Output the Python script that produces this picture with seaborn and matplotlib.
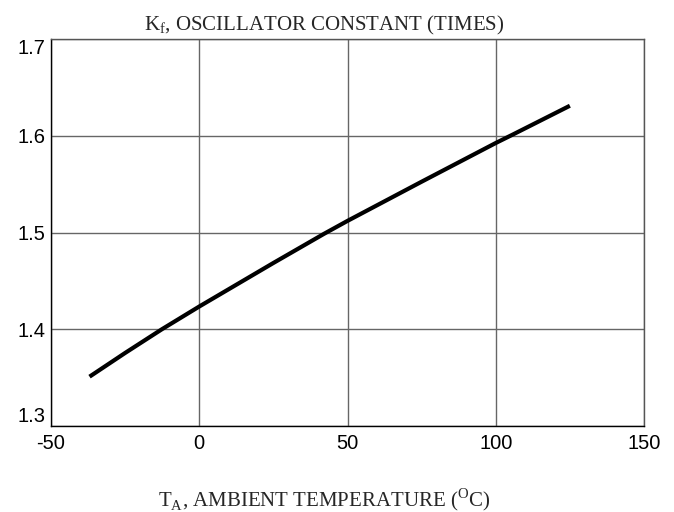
import pandas as pd
import seaborn as sns
import matplotlib.pyplot as plt

# --- dados ---
temperatura = [-37, -25, -12.6, 0, 25, 42, 50, 75, 100, 105.6, 125]
kf = [1.351, 1.3755, 1.400, 1.4235, 1.4685, 1.4985, 1.512, 1.5525, 1.5925, 1.601, 1.631]
x_ticks = [-50, 0, 50, 100, 150]
y_ticks = [1.3, 1.4, 1.5, 1.6, 1.7]

df = pd.DataFrame({'T': temperatura, 'Kf': kf})

sns.set_style('white')
plt.rcParams['font.family'] = ['Liberation Sans', 'DejaVu Sans']
plt.rcParams['mathtext.fontset'] = 'custom'
plt.rcParams['mathtext.rm'] = 'Liberation Serif'

fig = plt.figure(figsize=(6.74, 5.12), dpi=100)
ax = fig.add_axes([51 / 674, 1 - 426 / 512, (644 - 51) / 674, (426 - 39) / 512])

sns.lineplot(data=df, x='T', y='Kf', ax=ax, color='black', linewidth=3,
             solid_capstyle='butt', solid_joinstyle='round', zorder=3)

ax.set_xlim(-50, 150)
ax.set_ylim(1.3, 1.7)
ax.set_xticks(x_ticks)
ax.set_yticks(y_ticks)
ax.set_xticklabels([str(t) for t in x_ticks])
ax.set_yticklabels([f'{t:.1f}' for t in y_ticks])
ax.tick_params(axis='both', length=0, labelsize=14.5, colors='black')
ax.tick_params(axis='x', pad=6)
ax.tick_params(axis='y', pad=4)
labels = ax.get_yticklabels()
labels[0].set_va('bottom')
labels[-1].set_va('top')

ax.grid(True, color='#666666', linewidth=1)
ax.set_xlabel('')
ax.set_ylabel('')
for lado in ['left', 'bottom']:
    ax.spines[lado].set_color('black')
for lado in ['top', 'right']:
    ax.spines[lado].set_color('#555555')
for s in ax.spines.values():
    s.set_linewidth(1)

# títulos em fonte serifada, centrados como no original
fig.text(324 / 674, 1 - 25 / 512, r'K$_\mathrm{f}$, OSCILLATOR CONSTANT (TIMES)',
         family='Liberation Serif', fontsize=15, ha='center', va='center')
fig.text(324 / 674, 1 - 500 / 512, r'T$_\mathrm{A}$, AMBIENT TEMPERATURE ($^\mathrm{O}$C)',
         family='Liberation Serif', fontsize=15, ha='center', va='center')

fig.savefig('out.png', dpi=100)
